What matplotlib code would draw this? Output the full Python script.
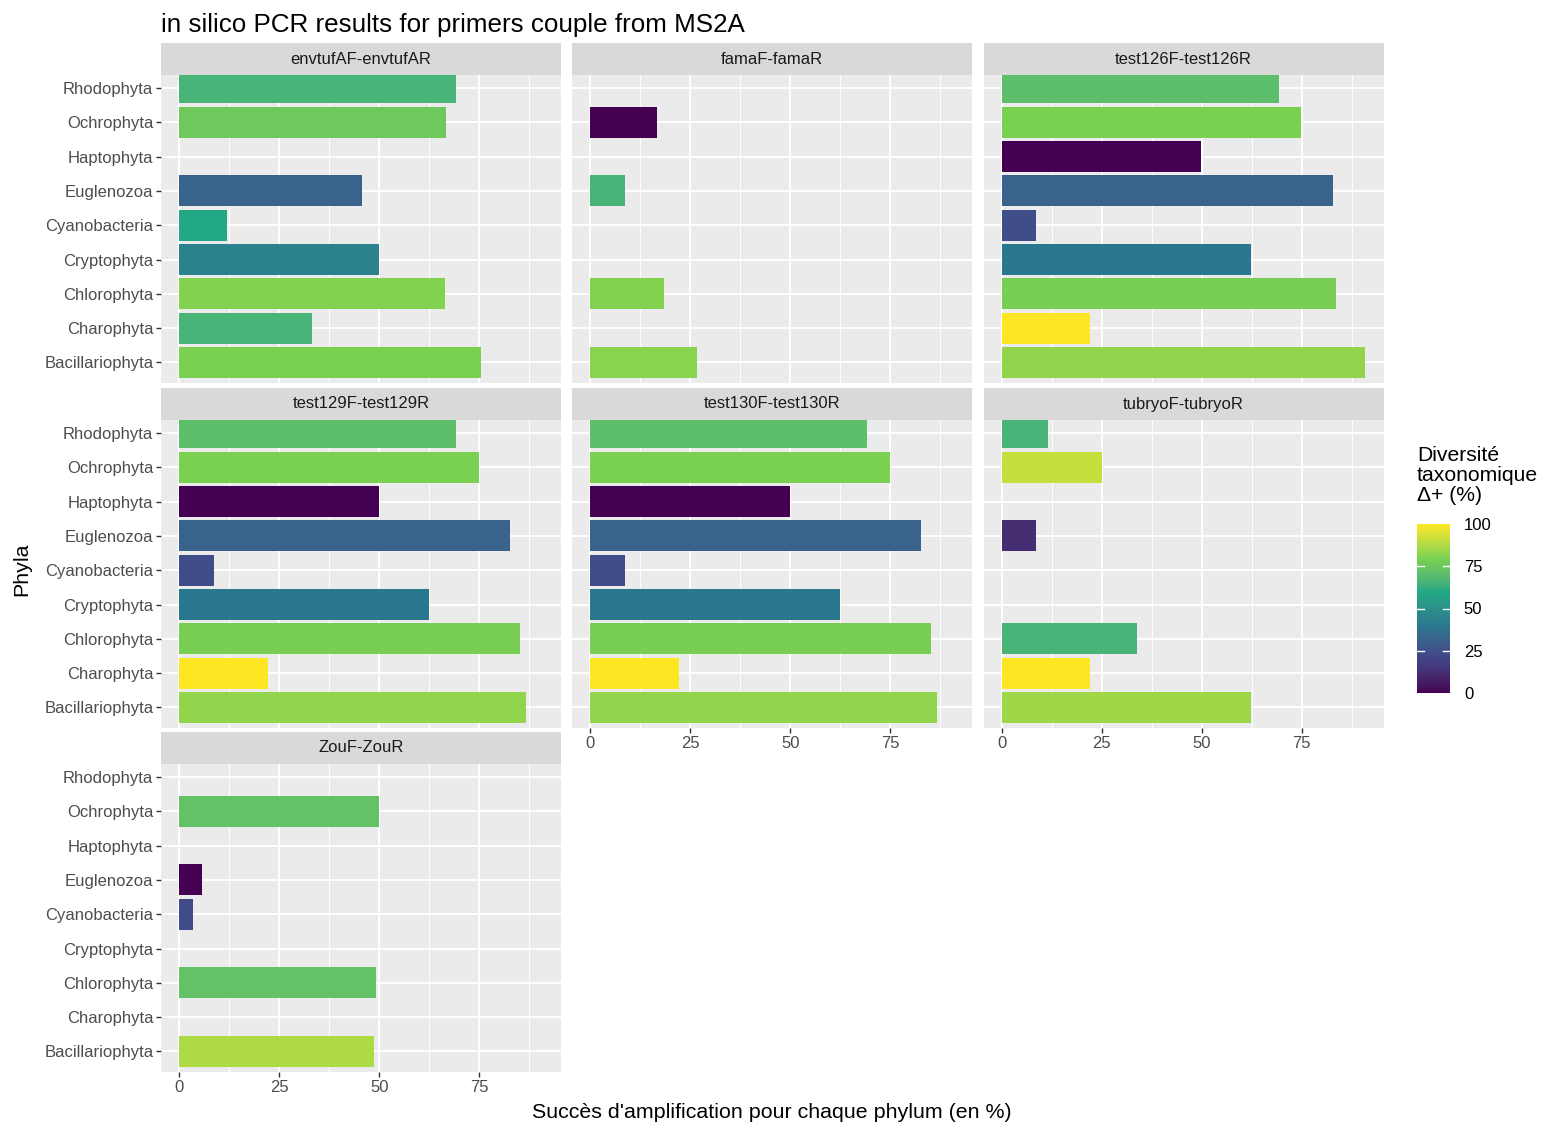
import numpy as np
import matplotlib
matplotlib.use("Agg")
import matplotlib.pyplot as plt
from matplotlib.colors import Normalize, ListedColormap, to_rgb
from matplotlib.cm import ScalarMappable
from matplotlib.ticker import FixedLocator

plt.rcParams['font.family'] = ['Liberation Sans', 'DejaVu Sans']

# ---------------- data ----------------
phyla = ["Bacillariophyta", "Charophyta", "Chlorophyta", "Cryptophyta",
         "Cyanobacteria", "Euglenozoa", "Haptophyta", "Ochrophyta", "Rhodophyta"]

primers = ["envtufAF-envtufAR", "famaF-famaR", "test126F-test126R",
           "test129F-test129R", "test130F-test130R", "tubryoF-tubryoR", "ZouF-ZouR"]

nan = np.nan
# amplification success (%) in phyla order above
amp_envtuf = [75.4, 33.2, 66.4, 49.9, 12.0, 45.6, nan, 66.6, 69.1]
amp_fama = [26.7, nan, 18.5, nan, nan, 8.7, nan, 16.8, nan]
amp_test126 = [90.9, 22.1, 83.6, 62.4, 8.6, 82.7, 49.9, 74.9, 69.2]
amp_test129 = [86.6, 22.1, 85.3, 62.4, 8.6, 82.7, 49.9, 74.9, 69.1]
amp_test130 = [86.7, 22.3, 85.3, 62.4, 8.6, 82.8, 50.0, 75.0, 69.2]
amp_tubryo = [62.2, 22.2, 33.8, nan, nan, 8.5, nan, 25.0, 11.6]
amp_zou = [48.8, nan, 49.3, nan, 3.4, 5.6, nan, 49.9, nan]

# taxonomic diversity Delta+ (%)
div_envtuf = [80, 66, 81, 44, 60, 32, nan, 76, 66]
div_fama = [82, nan, 81, nan, nan, 66, nan, 0, nan]
div_test126 = [83, 100, 79, 40, 24, 32, 0, 80, 71]
div_test129 = [83, 100, 79, 40, 24, 32, 0, 80, 71]
div_test130 = [83, 100, 79, 40, 24, 32, 0, 80, 71]
div_tubryo = [85, 100, 66, nan, nan, 12, nan, 91, 66]
div_zou = [87, nan, 73, nan, 23, 0, nan, 73, nan]

amps = [amp_envtuf, amp_fama, amp_test126, amp_test129, amp_test130, amp_tubryo, amp_zou]
divs = [div_envtuf, div_fama, div_test126, div_test129, div_test130, div_tubryo, div_zou]

x_breaks = [0, 25, 50, 75]
legend_breaks = [0, 25, 50, 75, 100]


# ---------------- ggplot-like viridis (6 anchors, Lab interpolation) ----------------
def srgb_to_lab(rgb):
    rgb = np.asarray(rgb, float)
    lin = np.where(rgb <= 0.04045, rgb / 12.92, ((rgb + 0.055) / 1.055) ** 2.4)
    M = np.array([[0.4124564, 0.3575761, 0.1804375],
                  [0.2126729, 0.7151522, 0.0721750],
                  [0.0193339, 0.1191920, 0.9503041]])
    xyz = lin @ M.T
    wp = np.array([0.95047, 1.0, 1.08883])
    t = xyz / wp
    f = np.where(t > (6 / 29) ** 3, np.cbrt(t), t / (3 * (6 / 29) ** 2) + 4 / 29)
    L = 116 * f[..., 1] - 16
    a = 500 * (f[..., 0] - f[..., 1])
    b = 200 * (f[..., 1] - f[..., 2])
    return np.stack([L, a, b], -1)


def lab_to_srgb(lab):
    lab = np.asarray(lab, float)
    fy = (lab[..., 0] + 16) / 116
    fx = fy + lab[..., 1] / 500
    fz = fy - lab[..., 2] / 200
    f = np.stack([fx, fy, fz], -1)
    d = 6 / 29
    t = np.where(f > d, f ** 3, 3 * d ** 2 * (f - 4 / 29))
    xyz = t * np.array([0.95047, 1.0, 1.08883])
    Minv = np.array([[3.2404542, -1.5371385, -0.4985314],
                     [-0.9692660, 1.8760108, 0.0415560],
                     [0.0556434, -0.2040259, 1.0572252]])
    lin = xyz @ Minv.T
    lin = np.clip(lin, 0, 1)
    rgb = np.where(lin <= 0.0031308, 12.92 * lin, 1.055 * lin ** (1 / 2.4) - 0.055)
    return np.clip(rgb, 0, 1)


anchors = ["#440154", "#414487", "#2A788E", "#22A884", "#7AD151", "#FDE725"]
anchor_lab = srgb_to_lab([to_rgb(h) for h in anchors])
tt = np.linspace(0, 1, 256)
pos = np.linspace(0, 1, len(anchors))
lab_interp = np.stack([np.interp(tt, pos, anchor_lab[:, k]) for k in range(3)], -1)
cmap = ListedColormap(lab_to_srgb(lab_interp))
norm = Normalize(0, 100)

# ---------------- layout ----------------
W, H = 1541, 1126
fig = plt.figure(figsize=(W / 100, H / 100), dpi=100)
fig.patch.set_facecolor('white')


def px_axes(left, top, w, h):
    return fig.add_axes([left / W, 1 - (top + h) / H, w / W, h / H])


col_left = [161, 572, 983.5]
row_top = [75, 420, 764]
pw, ph = 400, 308
strip_h = 32

all_vals = np.concatenate([np.array(a, float) for a in amps])
xmax = np.nanmax(all_vals)
pad = 0.05 * xmax
xlim = (-pad, xmax + pad)
ylim = (-0.6, len(phyla) - 1 + 0.38)

bottom_of_col = {6, 4, 5}

for i, (name, a, d) in enumerate(zip(primers, amps, divs)):
    r, c = divmod(i, 3)
    ax = px_axes(col_left[c], row_top[r], pw, ph)
    ax.set_facecolor('#EBEBEB')
    a = np.array(a, float)
    d = np.array(d, float)
    y = np.arange(len(phyla))
    m = ~np.isnan(a)
    ax.barh(y[m], a[m], height=0.9, color=cmap(norm(d[m])), zorder=3)
    ax.set_xlim(*xlim)
    ax.set_ylim(*ylim)
    ax.xaxis.set_major_locator(FixedLocator(x_breaks))
    ax.xaxis.set_minor_locator(FixedLocator([12.5, 37.5, 62.5, 87.5]))
    ax.set_yticks(y)
    ax.grid(which='major', axis='both', color='white', linewidth=1.4, zorder=1)
    ax.grid(which='minor', axis='x', color='white', linewidth=0.7, zorder=1)
    ax.set_axisbelow(True)
    for s in ax.spines.values():
        s.set_visible(False)
    ax.tick_params(which='minor', length=0)
    ax.tick_params(which='major', color='#333333', length=3.5, width=1.0,
                   labelsize=12, labelcolor='#4D4D4D', pad=2)
    if c == 0:
        ax.set_yticklabels(phyla)
    else:
        ax.tick_params(axis='y', length=0, labelleft=False)
    if i in bottom_of_col:
        ax.set_xticklabels([str(b) for b in x_breaks])
    else:
        ax.tick_params(axis='x', length=0, labelbottom=False)

    sax = px_axes(col_left[c], row_top[r] - strip_h, pw, strip_h)
    sax.set_facecolor('#D9D9D9')
    sax.set_xticks([])
    sax.set_yticks([])
    for s in sax.spines.values():
        s.set_visible(False)
    sax.text(0.5, 0.5, name, ha='center', va='center', fontsize=12,
             color='#1A1A1A', transform=sax.transAxes)

# titles
fig.text(161 / W, 1 - 25 / H, "in silico PCR results for primers couple from MS2A",
         ha='left', va='center', fontsize=18.7, color='black')
fig.text(772 / W, 1 - 1113 / H, "Succès d'amplification pour chaque phylum (en %)",
         ha='center', va='center', fontsize=15.4, color='black')
fig.text(22 / W, 1 - 569 / H, "Phyla", rotation=90, ha='center', va='center',
         fontsize=15.4, color='black')

# legend
fig.text(1417 / W, 1 - 446 / H, "Diversité\ntaxonomique\nΔ+ (%)", ha='left', va='top',
         fontsize=15.2, color='black', linespacing=1.05)
cax = px_axes(1417, 524, 33, 169)
sm = ScalarMappable(norm=norm, cmap=cmap)
cb = fig.colorbar(sm, cax=cax, ticks=legend_breaks)
cb.outline.set_visible(False)
cax.tick_params(length=0, labelsize=12, labelcolor='black', pad=10)
for b in legend_breaks[1:-1]:
    cax.plot([0, 0.2], [b, b], color='white', lw=1, transform=cax.get_yaxis_transform())
    cax.plot([0.8, 1.0], [b, b], color='white', lw=1, transform=cax.get_yaxis_transform())
cax.set_ylim(0, 100)

fig.savefig("out.png", dpi=100)
